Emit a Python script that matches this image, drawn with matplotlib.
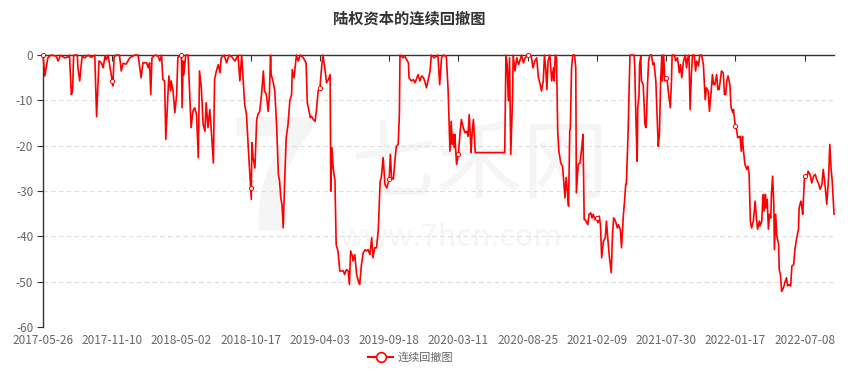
"""Continuous drawdown chart for 陆权资本, redrawn from a screenshot."""

import numpy as np
import matplotlib

matplotlib.use("Agg")
import matplotlib.pyplot as plt
from matplotlib.lines import Line2D

TITLE = "陆权资本的连续回撤图"
SERIES_NAME = "连续回撤图"

# category axis: one label every TICK_STEP trading days
TICK_STEP = 115
TICK_LABELS = [
    "2017-05-26", "2017-11-10", "2018-05-02", "2018-10-17", "2019-04-03",
    "2019-09-18", "2020-03-11", "2020-08-25", "2021-02-09", "2021-07-30",
    "2022-01-17", "2022-07-08",
]
LAST_DAY = 1314
Y_TICKS = [0, -10, -20, -30, -40, -50, -60]

# trading-day index (since 2017-05-26) and drawdown in %
trade_day = [
    0, 3, 8, 13, 22, 25, 29, 36, 42, 44, 47, 49, 51, 57, 58, 61, 63, 65, 69, 75,
    80, 86, 89, 93, 97, 100, 103, 105, 108, 115, 116, 118, 121, 127, 130, 133,
    138, 144, 152, 158, 163, 166, 172, 175, 177, 179, 181, 186, 191, 194, 197,
    199, 202, 204, 207, 209, 212, 213, 216, 219, 222, 224, 230, 231, 233, 234,
    237, 241, 244, 246, 249, 252, 255, 258, 260, 263, 266, 269, 271, 274, 277,
    280, 283, 285, 288, 291, 294, 296, 301, 305, 309, 313, 319, 324, 327, 330,
    332, 335, 338, 341, 345, 346, 347, 349, 352, 355, 357, 360, 363, 366, 368,
    371, 374, 376, 378, 379, 382, 385, 388, 391, 393, 395, 397, 399, 402, 404,
    407, 410, 413, 414, 417, 419, 421, 424, 427, 432, 437, 439, 442, 444, 446,
    449, 452, 454, 457, 460, 463, 465, 468, 471, 474, 477, 478, 480, 482, 485,
    487, 490, 493, 499, 501, 504, 507, 509, 511, 514, 515, 518, 521, 524, 526,
    529, 532, 535, 537, 540, 543, 546, 548, 551, 554, 557, 560, 562, 565, 568,
    571, 575, 577, 579, 582, 585, 587, 590, 592, 593, 598, 601, 604, 607, 608,
    612, 615, 618, 620, 623, 626, 629, 632, 634, 637, 640, 643, 645, 650, 656,
    659, 662, 665, 670, 673, 676, 678, 680, 681, 683, 684, 687, 690, 693, 695,
    698, 701, 704, 706, 708, 710, 711, 713, 715, 718, 767, 769, 771, 773, 775,
    777, 780, 781, 784, 787, 790, 792, 795, 798, 801, 805, 811, 814, 817, 820,
    823, 826, 828, 831, 833, 835, 837, 839, 842, 845, 848, 849, 851, 853, 855,
    857, 860, 863, 865, 867, 869, 871, 873, 875, 876, 878, 880, 883, 885, 886,
    889, 892, 895, 897, 899, 901, 905, 907, 910, 912, 914, 917, 920, 922, 924,
    926, 928, 931, 934, 936, 939, 941, 944, 946, 948, 951, 954, 956, 959, 961,
    964, 966, 968, 969, 972, 975, 982, 983, 985, 987, 988, 990, 991, 993, 994,
    997, 1000, 1002, 1004, 1006, 1008, 1011, 1013, 1015, 1018, 1019, 1022, 1024,
    1026, 1028, 1029, 1031, 1033, 1035, 1037, 1039, 1042, 1044, 1045, 1049,
    1051, 1054, 1057, 1059, 1061, 1064, 1067, 1069, 1071, 1073, 1075, 1077,
    1079, 1082, 1084, 1086, 1089, 1091, 1094, 1097, 1100, 1102, 1105, 1107,
    1110, 1112, 1114, 1116, 1119, 1121, 1123, 1125, 1127, 1130, 1132, 1134,
    1136, 1138, 1141, 1143, 1146, 1147, 1150, 1152, 1154, 1155, 1158, 1160,
    1162, 1163, 1166, 1169, 1171, 1173, 1175, 1177, 1180, 1183, 1185, 1187,
    1190, 1191, 1194, 1196, 1198, 1200, 1201, 1203, 1205, 1207, 1209, 1210,
    1212, 1214, 1215, 1217, 1219, 1222, 1223, 1225, 1227, 1230, 1233, 1235,
    1237, 1239, 1242, 1244, 1247, 1249, 1252, 1255, 1256, 1259, 1260, 1262,
    1265, 1268, 1270, 1271, 1274, 1277, 1280, 1283, 1285, 1288, 1291, 1294,
    1296, 1299, 1302, 1305, 1307, 1309, 1311, 1314,
]
drawdown = [
    0, -4.6, -0.6, 0, -0.2, -1.3, 0, -0.6, -0.4, 0, -8.7, -8.0, 0, 0, -2.8,
    -5.7, -2.8, -0.2, -0.6, 0, -0.5, 0, -13.6, -1.3, -1.7, -2.8, -0.2, -1.0, 0,
    -5.7, -6.8, -0.5, 0, 0, -3.5, -1.8, -2.0, -0.6, 0, 0, -5.0, -1.7, -1.7,
    -2.8, -1.7, -8.7, -0.6, 0, -0.2, -1.3, 0, -5.4, -5.7, -18.6, -10.1, -4.6,
    -7.9, -5.7, -7.9, -12.7, -8.7, -0.5, 0, -11.6, -1.3, -4.3, 0, 0, -9.4,
    -16.0, -12.4, -11.6, -13.1, -22.6, -3.5, -7.2, -15.3, -16.8, -10.5, -16.0,
    -12.0, -17.5, -23.8, -5.4, -3.5, -2.1, -3.9, -0.6, 0, -1.7, 0, -0.3, -1.3,
    0, -5.7, 0, -4.3, -10.9, -13.1, -20.4, -29.3, -31.8, -19.3, -22.6, -24.9,
    -14.2, -13.1, -12.4, -8.7, -3.5, -7.9, -8.7, -12.4, -9.0, 0, -4.3, -5.7,
    -7.9, -15.3, -26.3, -27.8, -31.5, -33.0, -38.1, -25.6, -18.2, -15.3, -10.1,
    -8.7, -3.2, -5.0, -2.4, 0, -1.3, 0, -0.5, -1.7, -10.5, -12.4, -13.8, -13.5,
    -14.2, -14.6, -12.4, -7.9, -7.2, -2.4, 0, -2.8, -6.1, -5.4, -4.3, -30.0,
    -20.4, -24.9, -27.8, -41.8, -43.2, -47.6, -47.6, -48.4, -47.3, -47.6,
    -50.6, -43.2, -44.3, -45.4, -44.0, -48.4, -49.9, -50.6, -46.2, -43.6,
    -42.9, -43.2, -42.9, -44.0, -40.3, -44.7, -42.5, -42.5, -38.5, -27.8,
    -27.0, -22.6, -28.5, -29.3, -27.4, -21.9, -27.0, -27.4, -22.6, -20.1,
    -19.7, -13.1, 0, -0.6, -0.2, -1.0, -1.7, -5.0, -5.7, -5.4, -6.1, -5.4,
    -4.3, -5.7, -4.6, -5.0, -5.7, -7.2, -5.4, -3.5, 0, -0.6, 0, -6.5, -0.6, 0,
    -0.3, -7.9, -21.2, -14.6, -19.7, -17.5, -20.4, -17.5, -24.1, -21.8, -16.8,
    -14.2, -16.0, -17.1, -16.8, -17.9, -13.1, -18.2, -21.5, -16.8, -14.2,
    -21.5, -21.5, 0, -2.1, -10.1, -0.6, -21.9, -9.4, 0, -3.5, -0.6, -2.1, -1.3,
    0, -1.7, -0.6, 0, -0.2, -2.8, -1.3, -0.6, -5.0, -6.5, -7.9, -5.7, 0, -2.8,
    -7.6, -1.3, 0, -5.7, -2.8, -5.7, 0, -0.6, -16.8, -21.2, -23.8, -24.5,
    -27.8, -31.5, -27.0, -30.0, -33.3, -16.8, -16.0, -2.8, 0, 0, -2.8, -30.4,
    -24.1, -23.8, -20.4, -17.5, -36.3, -36.3, -37.4, -35.1, -34.8, -35.9,
    -35.1, -36.3, -35.9, -37.0, -35.5, -37.4, -44.7, -41.0, -40.3, -36.6,
    -41.8, -44.7, -48.0, -39.6, -35.9, -36.6, -38.1, -37.4, -38.5, -42.5,
    -35.5, -32.2, -28.5, -28.5, -16.8, 0, 0, -2.8, -14.6, -23.4, -11.6, -9.0,
    -2.0, -0.3, -5.7, -6.5, -15.3, -16.0, -7.2, -1.3, 0, 0, -2.1, -1.7, -5.7,
    -9.4, -20.1, -17.5, -5.7, 0, -5.7, 0, -5.7, -5.1, -5.7, -8.3, -11.6, -5.7,
    0, 0, -1.3, -0.6, -3.9, -2.1, -5.0, -1.3, 0, -2.8, -0.6, 0, -12.0, -4.3, 0,
    0, -3.5, -1.3, -2.4, 0, 0, -2.1, -9.8, -7.2, -7.9, -12.4, -7.9, -4.3,
    -6.5, -6.5, -4.3, -7.6, -7.6, -5.7, -3.5, -3.9, -8.7, -8.7, -5.7, -4.6,
    -6.5, -11.6, -12.7, -12.0, -15.7, -16.4, -18.2, -18.2, -17.9, -21.2,
    -17.9, -20.4, -24.1, -25.2, -24.5, -26.3, -36.6, -38.1, -36.6, -32.2,
    -35.9, -38.4, -36.6, -37.7, -36.6, -30.7, -34.4, -30.7, -33.7, -31.8,
    -38.4, -35.1, -35.9, -30.7, -26.7, -33.0, -42.9, -35.1, -39.9, -41.8,
    -47.3, -48.4, -52.1, -51.3, -49.9, -49.1, -50.9, -50.6, -50.9, -46.5,
    -46.2, -42.9, -40.3, -38.4, -33.7, -32.2, -33.0, -35.1, -26.7, -27.0,
    -26.3, -25.6, -26.3, -28.2, -26.7, -26.3, -27.4, -28.2, -29.6, -28.5,
    -25.2, -28.5, -32.9, -27.0, -19.7, -24.9, -27.8, -35.1,
]

LINE_COLOR = "#ff0000"
AXIS_COLOR = "#333333"
LABEL_COLOR = "#666666"
GRID_COLOR = "#dddddd"
WATERMARK_COLOR = "#f5f5f5"


def main() -> None:
    plt.rcParams["font.family"] = ["Noto Sans CJK SC", "DejaVu Sans"]

    x = np.asarray(trade_day)
    y = np.asarray(drawdown)
    tick_days = np.arange(len(TICK_LABELS)) * TICK_STEP

    fig = plt.figure(figsize=(8.5, 3.8), dpi=100)

    # faint site watermark, drawn before (and below) the axes
    fig.text(0.322, 0.51, "7", fontsize=110, fontweight="bold", style="italic",
             color=WATERMARK_COLOR, ha="center", va="center", zorder=0)
    fig.text(0.565, 0.56, "七禾网", fontsize=62, color=WATERMARK_COLOR,
             ha="center", va="center", zorder=0)
    fig.text(0.53, 0.375, "www.7hcn.com", fontsize=22, color=WATERMARK_COLOR,
             ha="center", va="center", zorder=0)

    ax = fig.add_axes([0.0506, 0.139, 0.9306, 0.716], zorder=2)
    ax.patch.set_alpha(0)

    ax.plot(x, y, color=LINE_COLOR, linewidth=1.2, clip_on=False, zorder=3)

    # echarts shows a hollow symbol on the points that carry a label
    on_tick = np.isin(x, tick_days)
    ax.plot(x[on_tick], y[on_tick], linestyle="none", marker="o",
            markersize=3, markerfacecolor="white", markeredgecolor=LINE_COLOR,
            markeredgewidth=0.7, clip_on=False, zorder=4)

    ax.set_xlim(0, LAST_DAY)
    ax.set_ylim(-60, 0)
    ax.set_xticks(tick_days)
    ax.set_xticklabels(TICK_LABELS)
    ax.set_yticks(Y_TICKS)
    ax.set_yticklabels([str(v) for v in Y_TICKS])

    for v in Y_TICKS[1:]:
        ax.axhline(v, color=GRID_COLOR, linewidth=0.8, linestyle=(0, (4, 3)),
                   zorder=1)

    for side in ("right", "bottom"):
        ax.spines[side].set_visible(False)
    for side in ("left", "top"):
        ax.spines[side].set_color(AXIS_COLOR)
        ax.spines[side].set_linewidth(1.0)

    ax.tick_params(axis="x", bottom=False, top=True, direction="in",
                   length=4, color=AXIS_COLOR, labelbottom=True,
                   labeltop=False, labelsize=8.5, labelcolor=LABEL_COLOR, pad=5)
    ax.tick_params(axis="y", left=True, direction="out", length=4,
                   color=AXIS_COLOR, labelsize=8.5, labelcolor=LABEL_COLOR,
                   pad=3)

    fig.text(0.482, 0.952, TITLE, fontsize=11, fontweight="bold",
             color=AXIS_COLOR, ha="center", va="center")

    handle = Line2D([], [], color=LINE_COLOR, linewidth=1.5, marker="o",
                    markersize=7, markerfacecolor="white",
                    markeredgecolor=LINE_COLOR, markeredgewidth=1.2)
    fig.legend([handle], [SERIES_NAME], loc="center",
               bbox_to_anchor=(0.483, 0.06), frameon=False, fontsize=8,
               labelcolor=LABEL_COLOR, handlelength=2.2, handletextpad=0.4)

    fig.savefig("out.png", dpi=100)


if __name__ == "__main__":
    main()
